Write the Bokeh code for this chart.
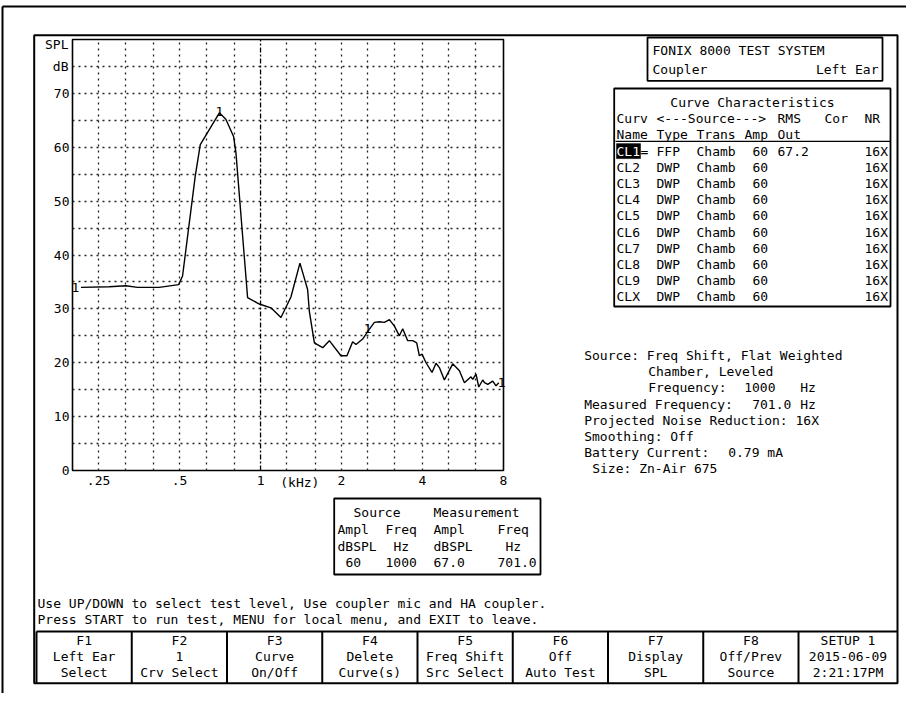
from bokeh.plotting import figure
from bokeh.models import Range1d, FixedTicker, LinearScale
from bokeh.core.properties import value
from bokeh.embed import file_html
from bokeh.resources import INLINE

# ---------------- data ----------------
freq_hz = [215, 274, 316, 349, 420, 496, 513, 572, 597, 703,
           743, 794, 810, 895, 990, 1093, 1191, 1297, 1401, 1496,
           1518, 1585, 1702, 1802, 1990, 2095, 2200, 2263, 2397, 2520,
           2649, 2765, 2886, 3013, 3145, 3282, 3376, 3524, 3678, 3806,
           3894, 3983, 4122, 4338, 4490, 4621, 4823, 5180, 5486, 5726,
           6058, 6148, 6324, 6472, 6698, 6796, 6993, 7296, 7506, 7680]
spl_db = [34.0, 34.1, 34.3, 34.0, 34.0, 34.5, 36.1, 54.7, 60.5, 66.4,
          65.2, 62.0, 59.0, 32.1, 30.9, 30.2, 28.4, 32.2, 38.5, 33.6,
          29.6, 23.7, 22.8, 24.1, 21.3, 21.3, 23.9, 23.4, 24.4, 26.0,
          27.5, 27.6, 27.5, 28.0, 26.8, 25.0, 26.3, 24.1, 24.1, 23.7,
          21.3, 21.6, 20.0, 18.2, 19.9, 19.1, 16.8, 19.8, 18.5, 16.3,
          17.4, 16.9, 17.9, 15.5, 16.8, 16.3, 16.0, 16.6, 15.7, 16.3]
curve_mark_freq = [205, 703, 2502, 7880]
curve_mark_db = [34.0, 66.7, 26.3, 16.3]
curve_mark_text = ["1", "1", "1", "1"]

x_ticks = [250, 500, 1000, 2000, 4000, 8000]
x_tick_labels = [".25", ".5", "1", "2", "4", "8"]
y_ticks = [0, 10, 20, 30, 40, 50, 60, 70]
grid_freqs = [250, 315, 400, 500, 630, 800, 1250, 1600, 2000, 2500, 3150, 4000, 5000, 6300]
grid_db = [5, 10, 15, 20, 25, 30, 35, 40, 45, 50, 55, 60, 65, 70, 75]

header_texts = ["FONIX 8000 TEST SYSTEM", "Coupler", "Left Ear"]
table_title = "Curve Characteristics"
table_head1 = ["Curv", "<---Source--->", "RMS", "Cor", "NR"]
table_head2 = ["Name", "Type", "Trans", "Amp", "Out"]
curve_names = ["CL1", "CL2", "CL3", "CL4", "CL5", "CL6", "CL7", "CL8", "CL9", "CLX"]
curve_types = ["FFP", "DWP", "DWP", "DWP", "DWP", "DWP", "DWP", "DWP", "DWP", "DWP"]
curve_trans = ["Chamb", "Chamb", "Chamb", "Chamb", "Chamb", "Chamb", "Chamb", "Chamb", "Chamb", "Chamb"]
curve_amp = ["60", "60", "60", "60", "60", "60", "60", "60", "60", "60"]
curve_rms = ["67.2", "", "", "", "", "", "", "", "", ""]
curve_nr = ["16X", "16X", "16X", "16X", "16X", "16X", "16X", "16X", "16X", "16X"]

meas_row1 = ["Source", "Measurement"]
meas_row2 = ["Ampl", "Freq", "Ampl", "Freq"]
meas_row3 = ["dBSPL", "Hz", "dBSPL", "Hz"]
meas_row4 = ["60", "1000", "67.0", "701.0"]

info_lines = ["Source: Freq Shift, Flat Weighted", "Chamber, Leveled", "Frequency:", "1000", "Hz",
              "Measured Frequency:", "701.0", "Hz", "Projected Noise Reduction: 16X",
              "Smoothing: Off", "Battery Current:", "0.79 mA", "Size: Zn-Air 675"]

prompt_lines = ["Use UP/DOWN to select test level, Use coupler mic and HA coupler.",
                "Press START to run test, MENU for local menu, and EXIT to leave."]

fkey_line1 = ["F1", "F2", "F3", "F4", "F5", "F6", "F7", "F8", "SETUP 1"]
fkey_line2 = ["Left Ear", "1", "Curve", "Delete", "Freq Shift", "Off", "Display", "Off/Prev", "2015-06-09"]
fkey_line3 = ["Select", "Crv Select", "On/Off", "Curve(s)", "Src Select", "Auto Test", "SPL", "Source", "2:21:17PM"]

# ---------------- layout ----------------
FONT = "DejaVu Sans Mono"
FS = "13px"
W, H = 906, 693
OFF = 8
IMG_L, IMG_R, IMG_T, IMG_B = 80, 511, 47, 478
FL, FR, FT, FB = IMG_L - OFF, IMG_R - OFF, IMG_T - OFF, IMG_B - OFF

p = figure(width=W, height=H, x_axis_type="log", title=None,
           x_range=Range1d(200, 8000), y_range=Range1d(0, 80),
           output_backend="svg", toolbar_location=None,
           min_border_left=FL, min_border_right=W - FR,
           min_border_top=FT, min_border_bottom=H - FB)
p.background_fill_color = "white"
p.border_fill_color = "white"
p.outline_line_color = "black"
p.outline_line_width = 1.6

p.extra_x_ranges = {"px": Range1d(FL, FR)}
p.extra_x_scales = {"px": LinearScale()}
p.extra_y_ranges = {"px": Range1d(FB, FT)}
p.extra_y_scales = {"px": LinearScale()}

xa = p.xaxis[0]
xa.ticker = FixedTicker(ticks=x_ticks)
xa.major_label_overrides = {t: l for t, l in zip(x_ticks, x_tick_labels)}
ya = p.yaxis[0]
ya.ticker = FixedTicker(ticks=y_ticks)
for ax in (xa, ya):
    ax.axis_line_color = None
    ax.major_tick_line_color = None
    ax.minor_tick_line_color = None
    ax.major_tick_out = 0
    ax.major_label_text_font = FONT
    ax.major_label_text_font_size = FS
    ax.major_label_text_color = "black"
xa.major_label_standoff = 5
ya.major_label_standoff = 3

p.xgrid.ticker = FixedTicker(ticks=grid_freqs)
p.ygrid.ticker = FixedTicker(ticks=grid_db)
p.grid.grid_line_color = "#222222"
p.grid.grid_line_dash = "2 4"
p.grid.grid_line_width = 1.3

p.segment(x0=[1000], y0=[0], x1=[1000], y1=[80], line_color="black",
          line_width=1.3, line_dash="5 2 2 2")
p.line(freq_hz, spl_db, line_color="black", line_width=1.4)
p.text(x=curve_mark_freq, y=curve_mark_db, text=curve_mark_text, text_font=value(FONT),
       text_font_size=FS, text_align="center", text_baseline="middle",
       text_color="black", level="overlay")


def fx(X):
    return X - OFF


def fy(Y):
    return Y - OFF


def txt(xs, ys, texts, align="left", color="black"):
    p.text(x=[fx(v) for v in xs], y=[fy(v) for v in ys], text=texts,
           text_font=value(FONT), text_font_size=FS, text_align=align,
           text_baseline="middle", text_color=color,
           x_range_name="px", y_range_name="px", level="overlay")


def box(x0, y0, x1, y1, w=1.8, fill=None):
    p.quad(left=[fx(x0)], right=[fx(x1)], top=[fy(y0)], bottom=[fy(y1)],
           fill_color=fill, line_color="black", line_width=w,
           x_range_name="px", y_range_name="px", level="overlay")


def segs(x0, y0, x1, y1, w=1.8):
    p.segment(x0=[fx(v) for v in x0], y0=[fy(v) for v in y0],
              x1=[fx(v) for v in x1], y1=[fy(v) for v in y1],
              line_color="black", line_width=w,
              x_range_name="px", y_range_name="px", level="overlay")


# outer page frame and screen frame
segs([10, 10], [14, 14], [930, 10], [14, 720], w=2)
box(41.7, 42.7, 905, 690.7, w=2)

# axis extra labels
p.text(x=[fx(76), fx(76)], y=[79, 75], text=["SPL", "dB"], text_font=value(FONT),
       text_font_size=FS, text_align="right", text_baseline="middle",
       x_range_name="px", level="overlay")
p.text(x=[1400], y=[fy(490)], text=["(kHz)"], text_font=value(FONT),
       text_font_size=FS, text_align="center", text_baseline="middle",
       y_range_name="px", level="overlay")

# header box
box(655, 45, 890, 88.3)
txt([660, 660], [58.3, 77], header_texts[:2])
txt([886], [77], header_texts[2:], align="right")

# curve characteristics table
CH = 8.0
C0 = 624
box(621.7, 96, 898, 314)
RY0 = 110
PITCH = 16.2
txt([760], [RY0], [table_title], align="center")
txt([C0, C0 + 5 * CH, 785, 832, 872], [RY0 + PITCH] * 5, table_head1)
txt([C0, C0 + 5 * CH, C0 + 10 * CH, C0 + 16 * CH, 785], [RY0 + 2 * PITCH] * 5, table_head2)
segs([623], [RY0 + 2 * PITCH + 6.5], [898], [RY0 + 2 * PITCH + 6.5], w=1.3)
rows_y = [RY0 + (3 + i) * PITCH for i in range(len(curve_names))]
box(C0, rows_y[0] - 7.5, C0 + 3 * CH, rows_y[0] + 7.5, w=0.5, fill="black")
txt([C0], [rows_y[0]], curve_names[:1], color="white")
txt([C0] * 9, rows_y[1:], curve_names[1:])
txt([C0 + 3 * CH], [rows_y[0]], ["="])
txt([C0 + 5 * CH] * 10, rows_y, curve_types)
txt([C0 + 10 * CH] * 10, rows_y, curve_trans)
txt([C0 + 17 * CH] * 10, rows_y, curve_amp)
txt([785] * 10, rows_y, curve_rms)
txt([872] * 10, rows_y, curve_nr)

# info text
IX = 591.7
IY = [363 + i * 16.2 for i in range(8)]
txt([IX, IX + 8 * CH, IX + 8 * CH, IX + 20 * CH, IX + 27 * CH,
     IX, IX + 21 * CH, IX + 27 * CH, IX, IX, IX, IX + 18 * CH, IX + CH],
    [IY[0], IY[1], IY[2], IY[2], IY[2], IY[3], IY[3], IY[3], IY[4], IY[5], IY[6], IY[6], IY[7]],
    info_lines)

# measurement box
M0 = 345
box(341.7, 506, 548, 582)
txt([M0 + 2 * CH, M0 + 12 * CH], [520, 520], meas_row1)
txt([M0, M0 + 6 * CH, M0 + 12 * CH, M0 + 20 * CH], [537] * 4, meas_row2)
txt([M0, M0 + 7 * CH, M0 + 12 * CH, M0 + 21 * CH], [553.5] * 4, meas_row3)
txt([M0 + CH, M0 + 6 * CH, M0 + 12 * CH, M0 + 20 * CH], [570] * 4, meas_row4)

# prompt lines
txt([45, 45], [611, 627], prompt_lines)

# function keys
kx = [44 + 95.25 * k for k in range(9)] + [905]
segs([44], [639], [905], [639], w=2)
segs(kx[:-1], [639] * 9, kx[:-1], [690.7] * 9, w=2)
centers = [(kx[i] + kx[i + 1]) / 2 for i in range(9)]
txt(centers, [648.3] * 9, fkey_line1, align="center")
txt(centers, [664.3] * 9, fkey_line2, align="center")
txt(centers, [680.3] * 9, fkey_line3, align="center")

open("out.html", "w").write(file_html(p, INLINE))
